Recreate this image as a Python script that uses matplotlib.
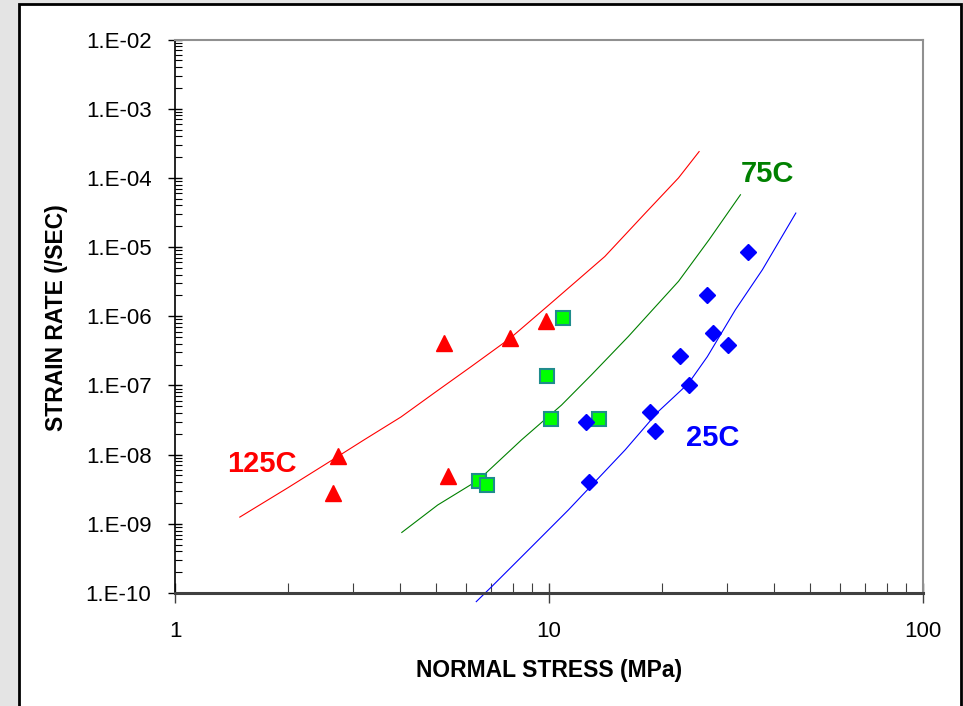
import matplotlib
matplotlib.use('Agg')
import matplotlib.pyplot as plt
from matplotlib.patches import Rectangle
from matplotlib.ticker import FixedLocator, FixedFormatter, LogLocator, NullFormatter

plt.rcParams['font.family'] = ['Liberation Sans', 'DejaVu Sans']

# measured points, stress (MPa) vs strain rate (/sec)
stress_125 = [2.72, 2.65, 5.23, 7.87, 9.8, 5.36]
rate_125 = [9.6e-9, 2.75e-9, 4.1e-7, 4.8e-7, 8.4e-7, 4.95e-9]

stress_75 = [10.9, 9.86, 10.1, 13.6, 6.48, 6.81]
rate_75 = [9.4e-7, 1.39e-7, 3.27e-8, 3.27e-8, 4.1e-9, 3.7e-9]

stress_25 = [33.96, 26.4, 27.5, 30.1, 22.4, 23.7, 18.6, 19.2, 12.56, 12.8]
rate_25 = [8.5e-6, 2.0e-6, 5.8e-7, 3.9e-7, 2.7e-7, 1.0e-7, 4.1e-8, 2.2e-8, 3.0e-8, 4.0e-9]

# model curves
fit_x_125 = [1.49, 2.0, 2.55, 3.2, 4.02, 5.0, 6.19, 7.87, 10.0, 11.98, 14.1, 18.1, 22.2, 25.2]
fit_y_125 = [1.25e-9, 3.3e-9, 7.5e-9, 1.63e-8, 3.5e-8, 8.2e-8, 1.87e-7, 4.8e-7, 1.46e-6,
             3.4e-6, 7.3e-6, 3.1e-5, 1.0e-4, 2.4e-4]

fit_x_75 = [4.04, 5.04, 6.48, 8.44, 10.8, 13.0, 16.3, 19.0, 22.2, 26.8, 32.5]
fit_y_75 = [7.5e-10, 1.87e-9, 4.3e-9, 1.63e-8, 5.2e-8, 1.43e-7, 5.1e-7, 1.27e-6,
            3.2e-6, 1.28e-5, 5.7e-5]

fit_x_25 = [6.39, 7.01, 9.0, 11.26, 13.5, 15.98, 19.6, 23.6, 26.5, 31.5, 37.2, 45.7]
fit_y_25 = [7.5e-11, 1.22e-10, 4.7e-10, 1.58e-9, 4.46e-9, 1.17e-8, 4.2e-8, 1.07e-7,
            2.6e-7, 1.24e-6, 4.7e-6, 3.1e-5]

ytick_values = [1e-10, 1e-9, 1e-8, 1e-7, 1e-6, 1e-5, 1e-4, 1e-3, 1e-2]
ytick_labels = ['1.E-10', '1.E-09', '1.E-08', '1.E-07', '1.E-06',
                '1.E-05', '1.E-04', '1.E-03', '1.E-02']
xtick_values = [1, 10, 100]
xtick_labels = ['1', '10', '100']


W, H = 963.0, 706.0
fig = plt.figure(figsize=(W / 100, H / 100), dpi=100)
fig.patch.set_facecolor('#e4e4e4')

# white chart area with black frame (cut off at the bottom)
fig.patches.append(Rectangle((19 / W, -0.01), (961 - 19) / W, 1.01 - 4 / H,
                             transform=fig.transFigure, facecolor='white',
                             edgecolor='black', lw=2, zorder=-1))

ax = fig.add_axes([175 / W, 1 - 593 / H, (923 - 175) / W, (593 - 39.5) / H])
ax.set_zorder(1)
ax.set_xscale('log')
ax.set_yscale('log')
ax.set_xlim(1, 100)
ax.set_ylim(1e-10, 1e-2)

ax.plot(fit_x_125, fit_y_125, color='#ff0000', lw=0.8)
ax.plot(fit_x_75, fit_y_75, color='#008000', lw=0.8)
ax.plot(fit_x_25, fit_y_25, color='#0000ff', lw=0.8, clip_on=False)

ax.plot(stress_125, rate_125, ls='none', marker='^', ms=12, color='#ff0000',
        mec='#ff0000', clip_on=False, zorder=5)
ax.plot(stress_75, rate_75, ls='none', marker='s', ms=9.5, mfc='#00ff00',
        mec='#1f8c8c', mew=1.5, clip_on=False, zorder=5)
ax.plot(stress_25, rate_25, ls='none', marker='D', ms=7.8, color='#0000ff',
        clip_on=False, zorder=5)

ax.yaxis.set_major_locator(FixedLocator(ytick_values))
ax.yaxis.set_major_formatter(FixedFormatter(ytick_labels))
ax.yaxis.set_minor_locator(LogLocator(base=10, subs=range(2, 10), numticks=20))
ax.yaxis.set_minor_formatter(NullFormatter())
ax.xaxis.set_major_locator(FixedLocator(xtick_values))
ax.xaxis.set_major_formatter(FixedFormatter(xtick_labels))
ax.xaxis.set_minor_locator(LogLocator(base=10, subs=range(2, 10), numticks=20))
ax.xaxis.set_minor_formatter(NullFormatter())

ax.tick_params(axis='y', which='major', direction='inout', length=10, width=1,
               labelsize=16, pad=12)
ax.tick_params(axis='y', which='minor', direction='in', length=5, width=0.8)
ax.tick_params(axis='x', which='major', direction='inout', length=14, width=1,
               labelsize=16, pad=13, color='#404040')
ax.tick_params(axis='x', which='minor', direction='in', length=7, width=0.8,
               color='#404040')

ax.spines['left'].set_color('black')
ax.spines['left'].set_linewidth(1.2)
ax.spines['bottom'].set_color('#404040')
ax.spines['bottom'].set_linewidth(2.2)
ax.spines['top'].set_color('#909090')
ax.spines['top'].set_linewidth(1.5)
ax.spines['right'].set_color('#909090')
ax.spines['right'].set_linewidth(1.5)

# series labels, positions in pixels from the top-left corner
fig.text(262 / W, 1 - 464 / H, '125C', color='#ff0000', fontsize=21,
         fontweight='bold', ha='center', va='center', zorder=3)
fig.text(767 / W, 1 - 174 / H, '75C', color='#008000', fontsize=21,
         fontweight='bold', ha='center', va='center', zorder=3)
fig.text(713 / W, 1 - 438 / H, '25C', color='#0000ff', fontsize=21,
         fontweight='bold', ha='center', va='center', zorder=3)

fig.text(549 / W, 1 - 670 / H, 'NORMAL STRESS (MPa)', fontsize=16.5,
         fontweight='bold', ha='center', va='center')
fig.text(56 / W, 1 - 318 / H, 'STRAIN RATE (/SEC)', fontsize=16.5,
         fontweight='bold', ha='center', va='center', rotation=90)

fig.savefig('out.png', dpi=100, facecolor=fig.get_facecolor())
